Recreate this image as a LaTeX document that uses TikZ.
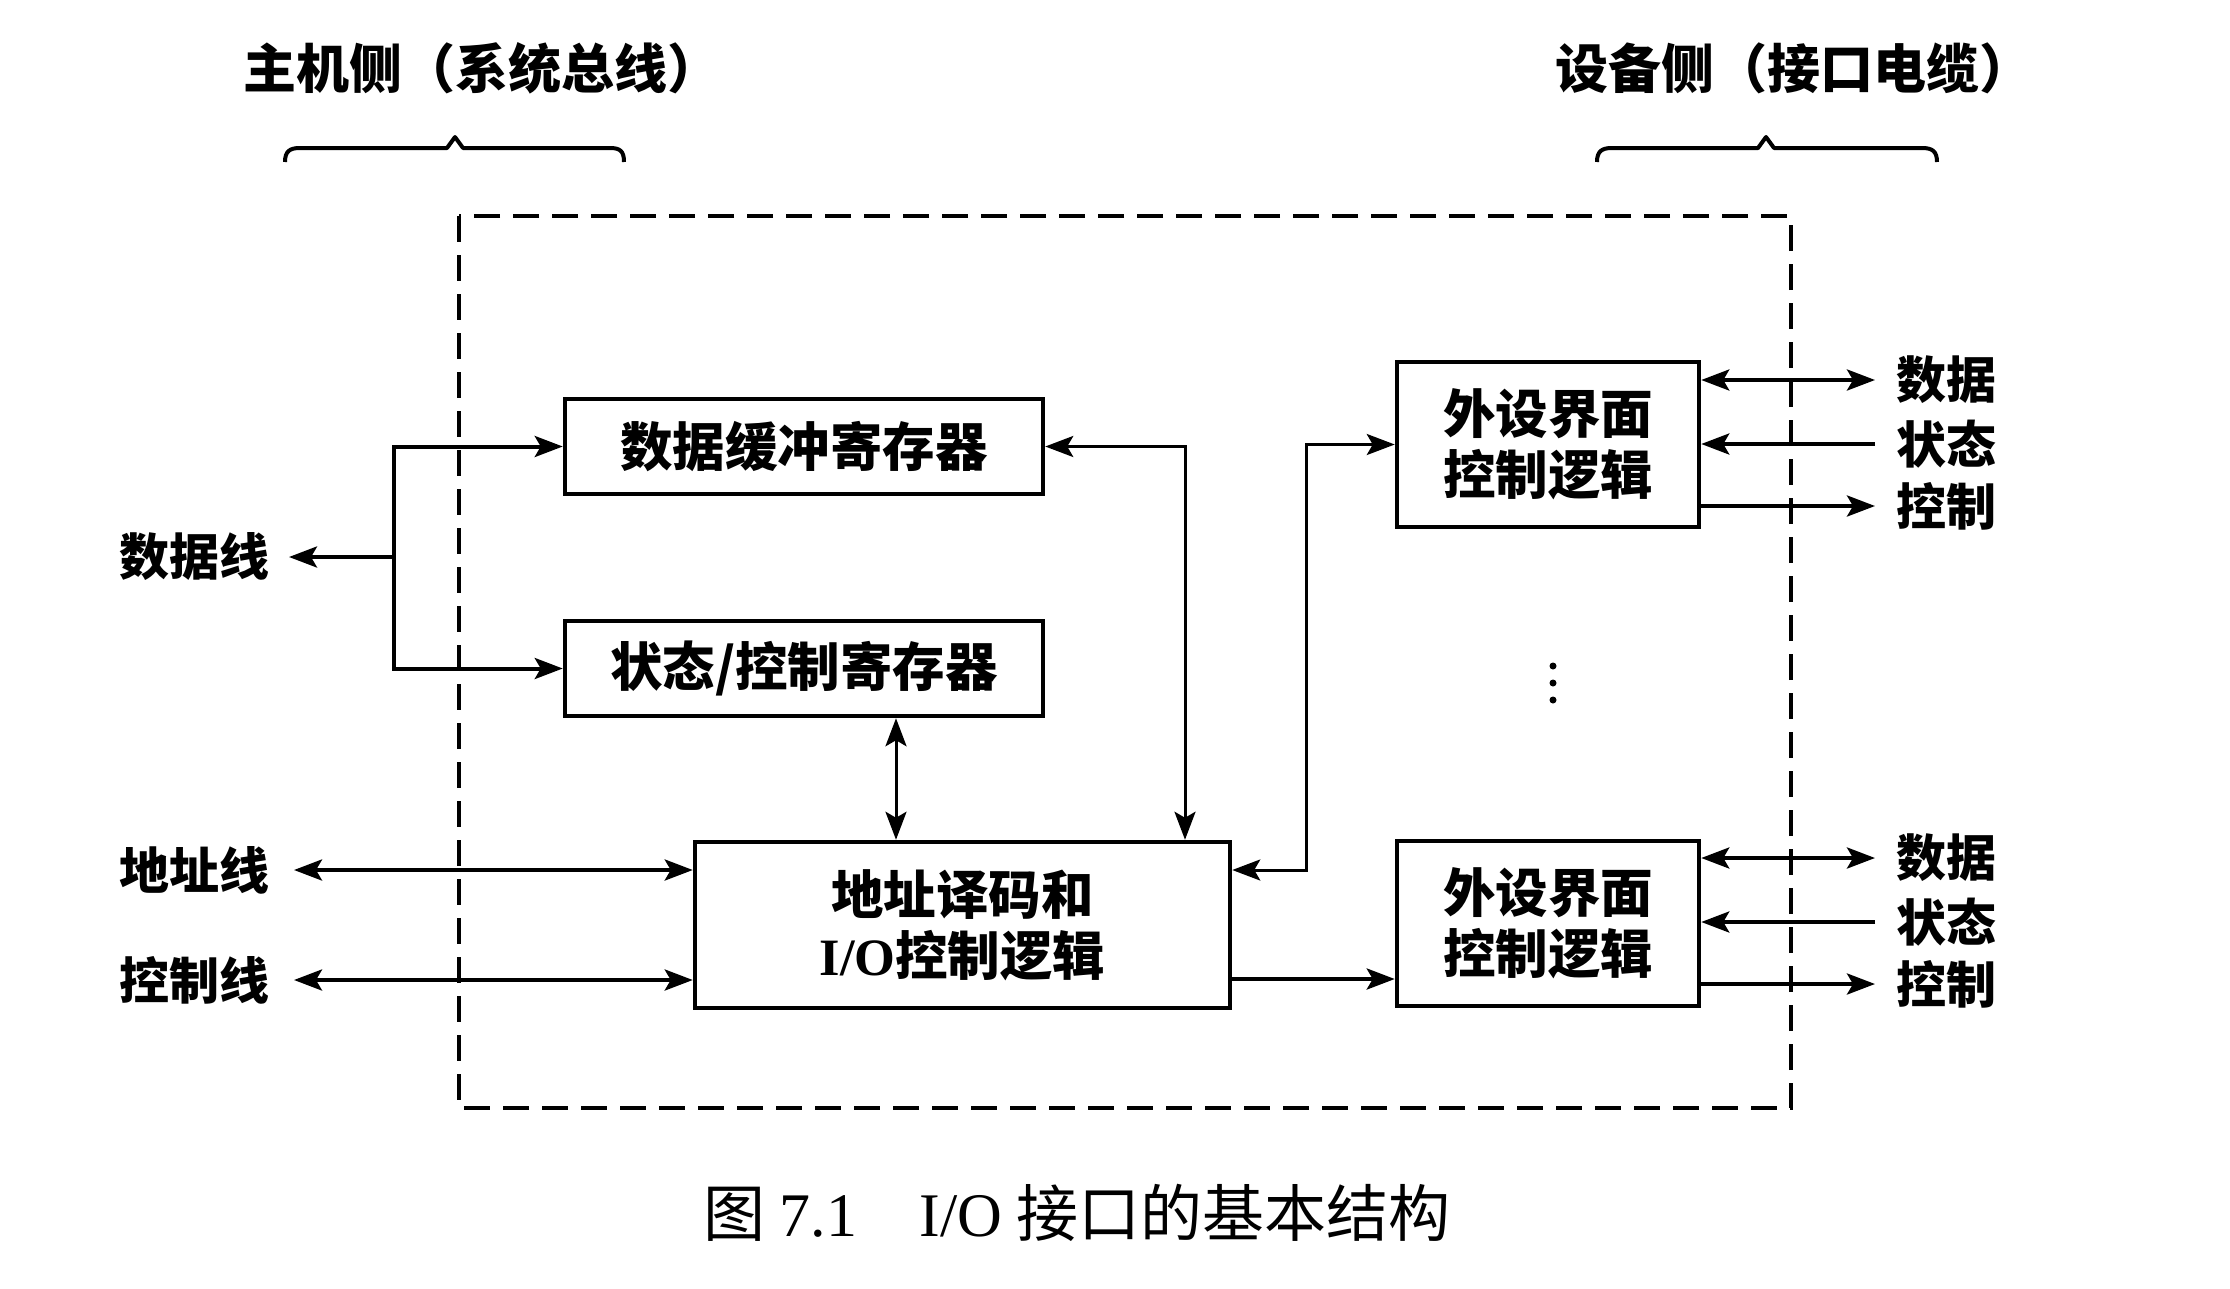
\documentclass[tikz,border=0pt]{standalone}
\usepackage{fontspec}
\setmainfont{Liberation Serif}
\newfontfamily\cjk{Noto Sans CJK SC}
\usetikzlibrary{arrows.meta}
\tikzset{
  box/.style={draw, line width=4.5pt, inner sep=0pt, align=center,
    font=\cjk\bfseries\fontsize{52.5}{61}\selectfont},
  lbl/.style={inner ysep=2pt, font=\cjk\bfseries\fontsize{50}{60}\selectfont},
  toplbl/.style={inner ysep=2pt, font=\cjk\bfseries\fontsize{53}{60}\selectfont},
  conn/.style={line width=4pt},
  thinc/.style={line width=3pt},
  dashbox/.style={line width=4pt, dash pattern=on 26pt off 13pt},
  bracel/.style={line width=4pt, line join=round},
  captext/.style={font=\fontsize{62}{70}\selectfont}
}
\begin{document}
\begin{tikzpicture}[x=1pt,y=-1pt,>={Stealth[length=28pt,width=21pt,inset=6pt]}]
\useasboundingbox (0,0) rectangle (2230,1288);
\fill[white] (0,0) rectangle (2230,1288);
% dashed interface boundary
\draw[dashbox] (459,216) rectangle (1791,1108);
% boxes
\node[box, minimum width=478pt, minimum height=95pt] (buf) at (804,446.5) {数据缓冲寄存器};
\node[box, minimum width=478pt, minimum height=95pt] (stat) at (804,668.5) {状态/控制寄存器};
\node[box, minimum width=535pt, minimum height=166pt] (addr) at (962.5,925) {地址译码和\\{\rmfamily\bfseries I/O}控制逻辑};
\node[box, minimum width=302pt, minimum height=165pt] (per1) at (1548,444.5) {外设界面\\控制逻辑};
\node[box, minimum width=302pt, minimum height=165pt] (per2) at (1548,923.5) {外设界面\\控制逻辑};
% left labels
\node[lbl, anchor=east, inner xsep=19pt] (dl) at (289,557) {数据线};
\node[lbl, anchor=east, inner xsep=24pt] (al) at (294,870) {地址线};
\node[lbl, anchor=east, inner xsep=24pt] (cl) at (294,980) {控制线};
% right labels
\node[lbl, anchor=west, inner xsep=21pt] (d1) at (1875,380) {数据};
\node[lbl, anchor=west, inner xsep=21pt] (s1) at (1875,444) {状态};
\node[lbl, anchor=west, inner xsep=21pt] (c1) at (1875,506) {控制};
\node[lbl, anchor=west, inner xsep=21pt] (d2) at (1875,858) {数据};
\node[lbl, anchor=west, inner xsep=21pt] (s2) at (1875,922) {状态};
\node[lbl, anchor=west, inner xsep=21pt] (c2) at (1875,984) {控制};
% top labels
\node[toplbl] (host) at (482,68) {主机侧（系统总线）};
\node[toplbl] (dev) at (1794,68) {设备侧（接口电缆）};
% caption
\node[captext] (caption) at (1077,1213) {{\cjk 图}\hspace{14pt}7.1\hspace{62pt}I/O\hspace{14pt}{\cjk 接口的基本结构}};
% connectors, host side
\coordinate (J) at (394,557);
\draw[conn,->] (J) -- (dl.east);
\draw[conn,->] (J) |- (buf.west);
\draw[conn,->] (J) |- (stat.west);
\draw[conn,<->] (al.east) -- (al.east -| addr.west);
\draw[conn,<->] (cl.east) -- (cl.east -| addr.west);
% internal connectors
\coordinate (bx) at (1185,0);
\draw[thinc,<->] (buf.east) -| (addr.north -| bx);
\coordinate (sx) at (896,0);
\draw[thinc,<->] (stat.south -| sx) -- (addr.north -| sx);
\coordinate (k1) at (1306,870);
\draw[thinc,<->] (addr.east |- k1) -- (k1) |- (per1.west);
\coordinate (k2) at (0,979);
\draw[conn,->] (addr.east |- k2) -- (per2.west |- k2);
% device side
\draw[conn,<->] (per1.east |- d1.west) -- (d1.west);
\draw[conn,->] (s1.west) -- (per1.east |- s1.west);
\draw[conn,->] (per1.east |- c1.west) -- (c1.west);
\draw[conn,<->] (per2.east |- d2.west) -- (d2.west);
\draw[conn,->] (s2.west) -- (per2.east |- s2.west);
\draw[conn,->] (per2.east |- c2.west) -- (c2.west);
% vertical dots
\fill (1553,666) circle (3.5pt);
\fill (1553,683) circle (3.5pt);
\fill (1553,700) circle (3.5pt);
% braces
\draw[bracel] (285,162) .. controls (285,151) and (290,148) .. (300,148) -- (447,148) -- (455,137) -- (463,148) -- (610,148) .. controls (620,148) and (624,151) .. (624,162);
\draw[bracel] (1597,162) .. controls (1597,151) and (1602,148) .. (1612,148) -- (1758,148) -- (1766,137) -- (1774,148) -- (1922,148) .. controls (1932,148) and (1937,151) .. (1937,162);
\end{tikzpicture}
\end{document}
